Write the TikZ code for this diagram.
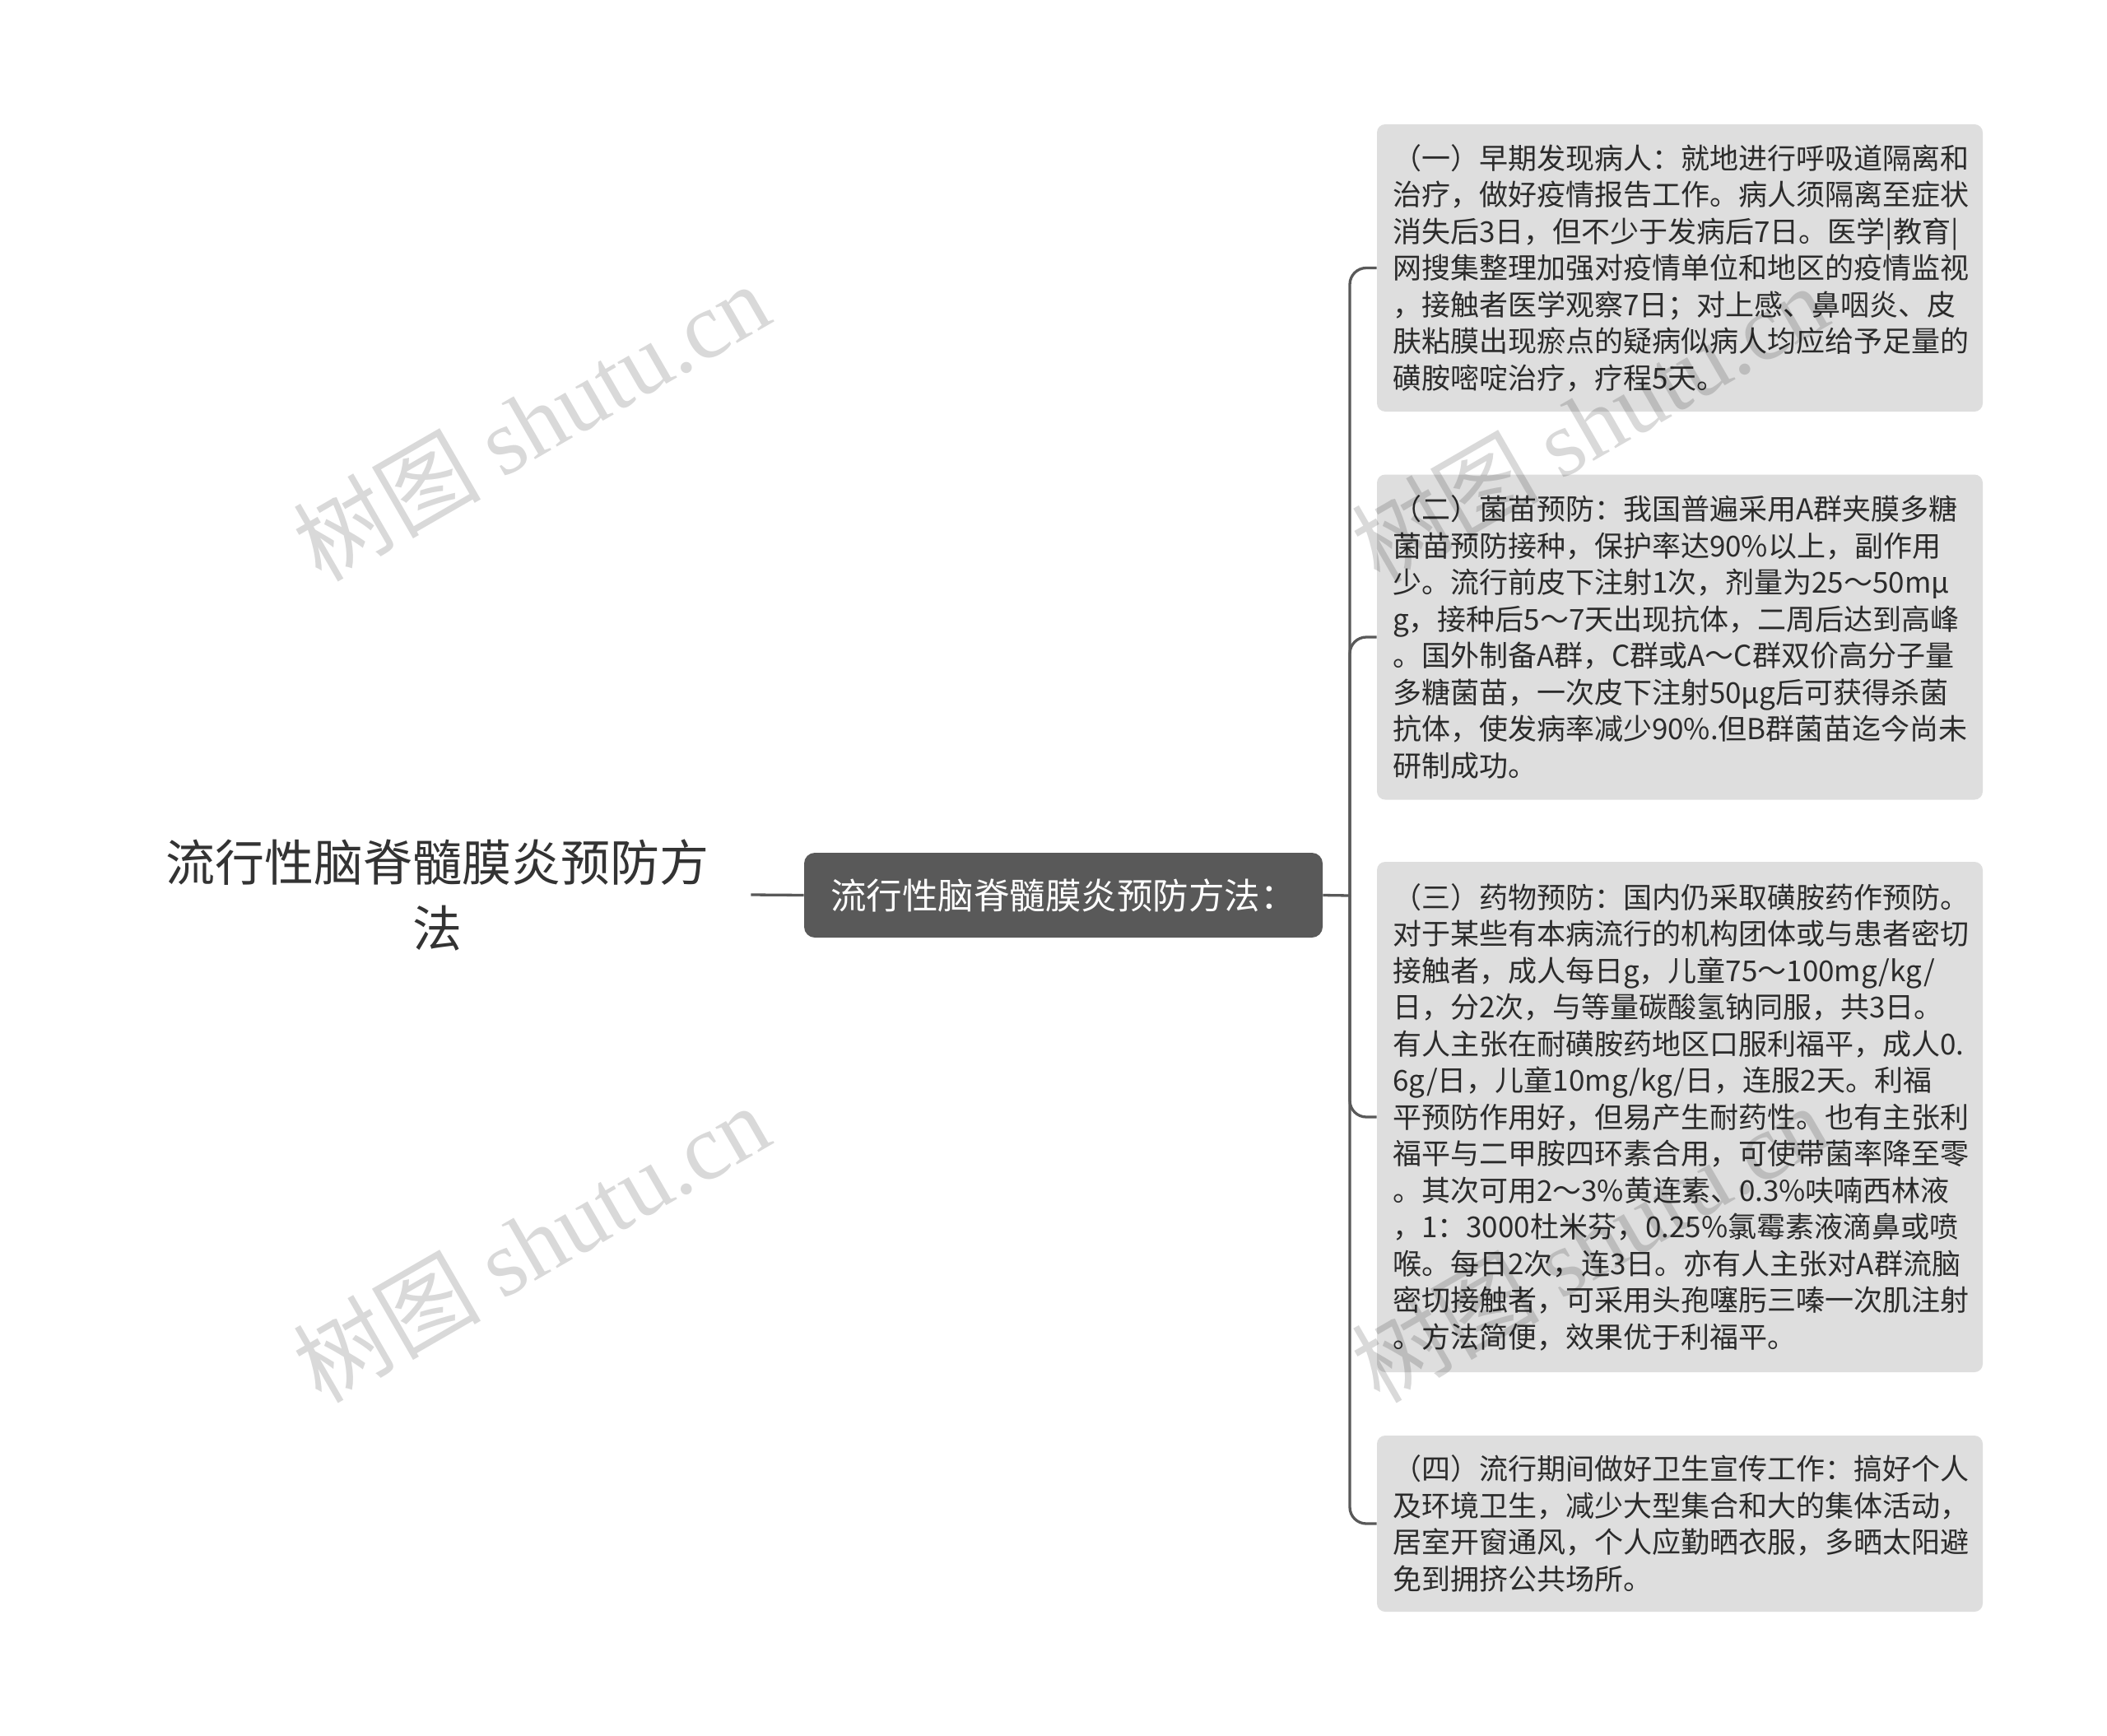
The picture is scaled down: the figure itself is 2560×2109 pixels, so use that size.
\documentclass[tikz,border=0pt]{standalone}
\usepackage{fontspec}
\setmainfont{Noto Sans CJK SC}
\newfontfamily\wmserif{Liberation Serif}
\definecolor{boxgray}{HTML}{DEDEDE}
\definecolor{darknode}{HTML}{595959}
\definecolor{linegray}{HTML}{595959}
\definecolor{txt}{HTML}{2B2B2B}
\definecolor{roottxt}{HTML}{333333}
\tikzset{
  leaf/.style={fill=boxgray, rounded corners=5pt, text width=349pt, inner xsep=9.5pt, inner ysep=0pt,
    align=left, font=\fontsize{17.5pt}{22.25pt}\selectfont, text=txt, anchor=center},
  hub/.style={fill=darknode, rounded corners=6.5pt, minimum width=315pt, minimum height=51.5pt,
    inner sep=0pt, text=white, font=\fontsize{21.75pt}{26pt}\selectfont},
  rootnode/.style={text width=381pt, inner sep=0pt, align=center, text=roottxt,
    font=\fontsize{30pt}{40pt}\selectfont},
  link/.style={draw=linegray, line width=1.65pt},
  wm/.style={rotate=30, text=black, text opacity=0.15, font=\fontsize{57pt}{60pt}\selectfont, inner sep=0pt}
}
\begin{document}
\begin{tikzpicture}[x=0.5pt,y=-0.5pt]
\useasboundingbox (0,0) rectangle (2560,2109);

\node[rootnode] (root) at (531,1087) {流行性脑脊髓膜炎预防方\\法};
\node[hub] (hub) at (1292,1087.5) {流行性脑脊髓膜炎预防方法：};

\node[leaf, minimum height=174.5pt] (b1) at (2041,325.5) {（一）早期发现病人：就地进行呼吸道隔离和\\治疗，做好疫情报告工作。病人须隔离至症状\\消失后3日，但不少于发病后7日。医学|教育|\\网搜集整理加强对疫情单位和地区的疫情监视\\，接触者医学观察7日；对上感、鼻咽炎、皮\\肤粘膜出现瘀点的疑病似病人均应给予足量的\\磺胺嘧啶治疗，疗程5天。};

\node[leaf, minimum height=197.5pt] (b2) at (2041,774) {（二）菌苗预防：我国普遍采用A群夹膜多糖\\菌苗预防接种，保护率达90\%以上，副作用\\少。流行前皮下注射1次，剂量为25～50mμ\\g，接种后5～7天出现抗体，二周后达到高峰\\。国外制备A群，C群或A～C群双价高分子量\\多糖菌苗，一次皮下注射50μg后可获得杀菌\\抗体，使发病率减少90\%.但B群菌苗迄今尚未\\研制成功。};

\node[leaf, minimum height=310pt] (b3) at (2041,1357) {（三）药物预防：国内仍采取磺胺药作预防。\\对于某些有本病流行的机构团体或与患者密切\\接触者，成人每日g，儿童75～100mg/kg/\\日，分2次，与等量碳酸氢钠同服，共3日。\\有人主张在耐磺胺药地区口服利福平，成人0.\\6g/日，儿童10mg/kg/日，连服2天。利福\\平预防作用好，但易产生耐药性。也有主张利\\福平与二甲胺四环素合用，可使带菌率降至零\\。其次可用2～3\%黄连素、0.3\%呋喃西林液\\，1：3000杜米芬，0.25\%氯霉素液滴鼻或喷\\喉。每日2次，连3日。亦有人主张对A群流脑\\密切接触者，可采用头孢噻肟三嗪一次肌注射\\。方法简便，效果优于利福平。};

\node[leaf, minimum height=107pt] (b4) at (2041,1851) {（四）流行期间做好卫生宣传工作：搞好个人\\及环境卫生，减少大型集合和大的集体活动，\\居室开窗通风，个人应勤晒衣服，多晒太阳避\\免到拥挤公共场所。};

\coordinate (j) at (1640,1088);
\draw[link] (root.east) -- (hub.west);
\draw[link] (hub.east) -- (j);
\draw[link, rounded corners=10pt] (j) |- (b1.west);
\draw[link, rounded corners=10pt] (j) |- (b2.west);
\draw[link, rounded corners=10pt] (j) |- (b3.west);
\draw[link, rounded corners=10pt] (j) |- (b4.west);

\node[wm] (wm1) at (645,512) {树图 {\wmserif shutu.cn}};
\node[wm] (wm2) at (645,1510) {树图 {\wmserif shutu.cn}};
\node[wm] (wm3) at (1931,514) {树图 {\wmserif shutu.cn}};
\node[wm] (wm4) at (1931,1510) {树图 {\wmserif shutu.cn}};
\end{tikzpicture}
\end{document}
